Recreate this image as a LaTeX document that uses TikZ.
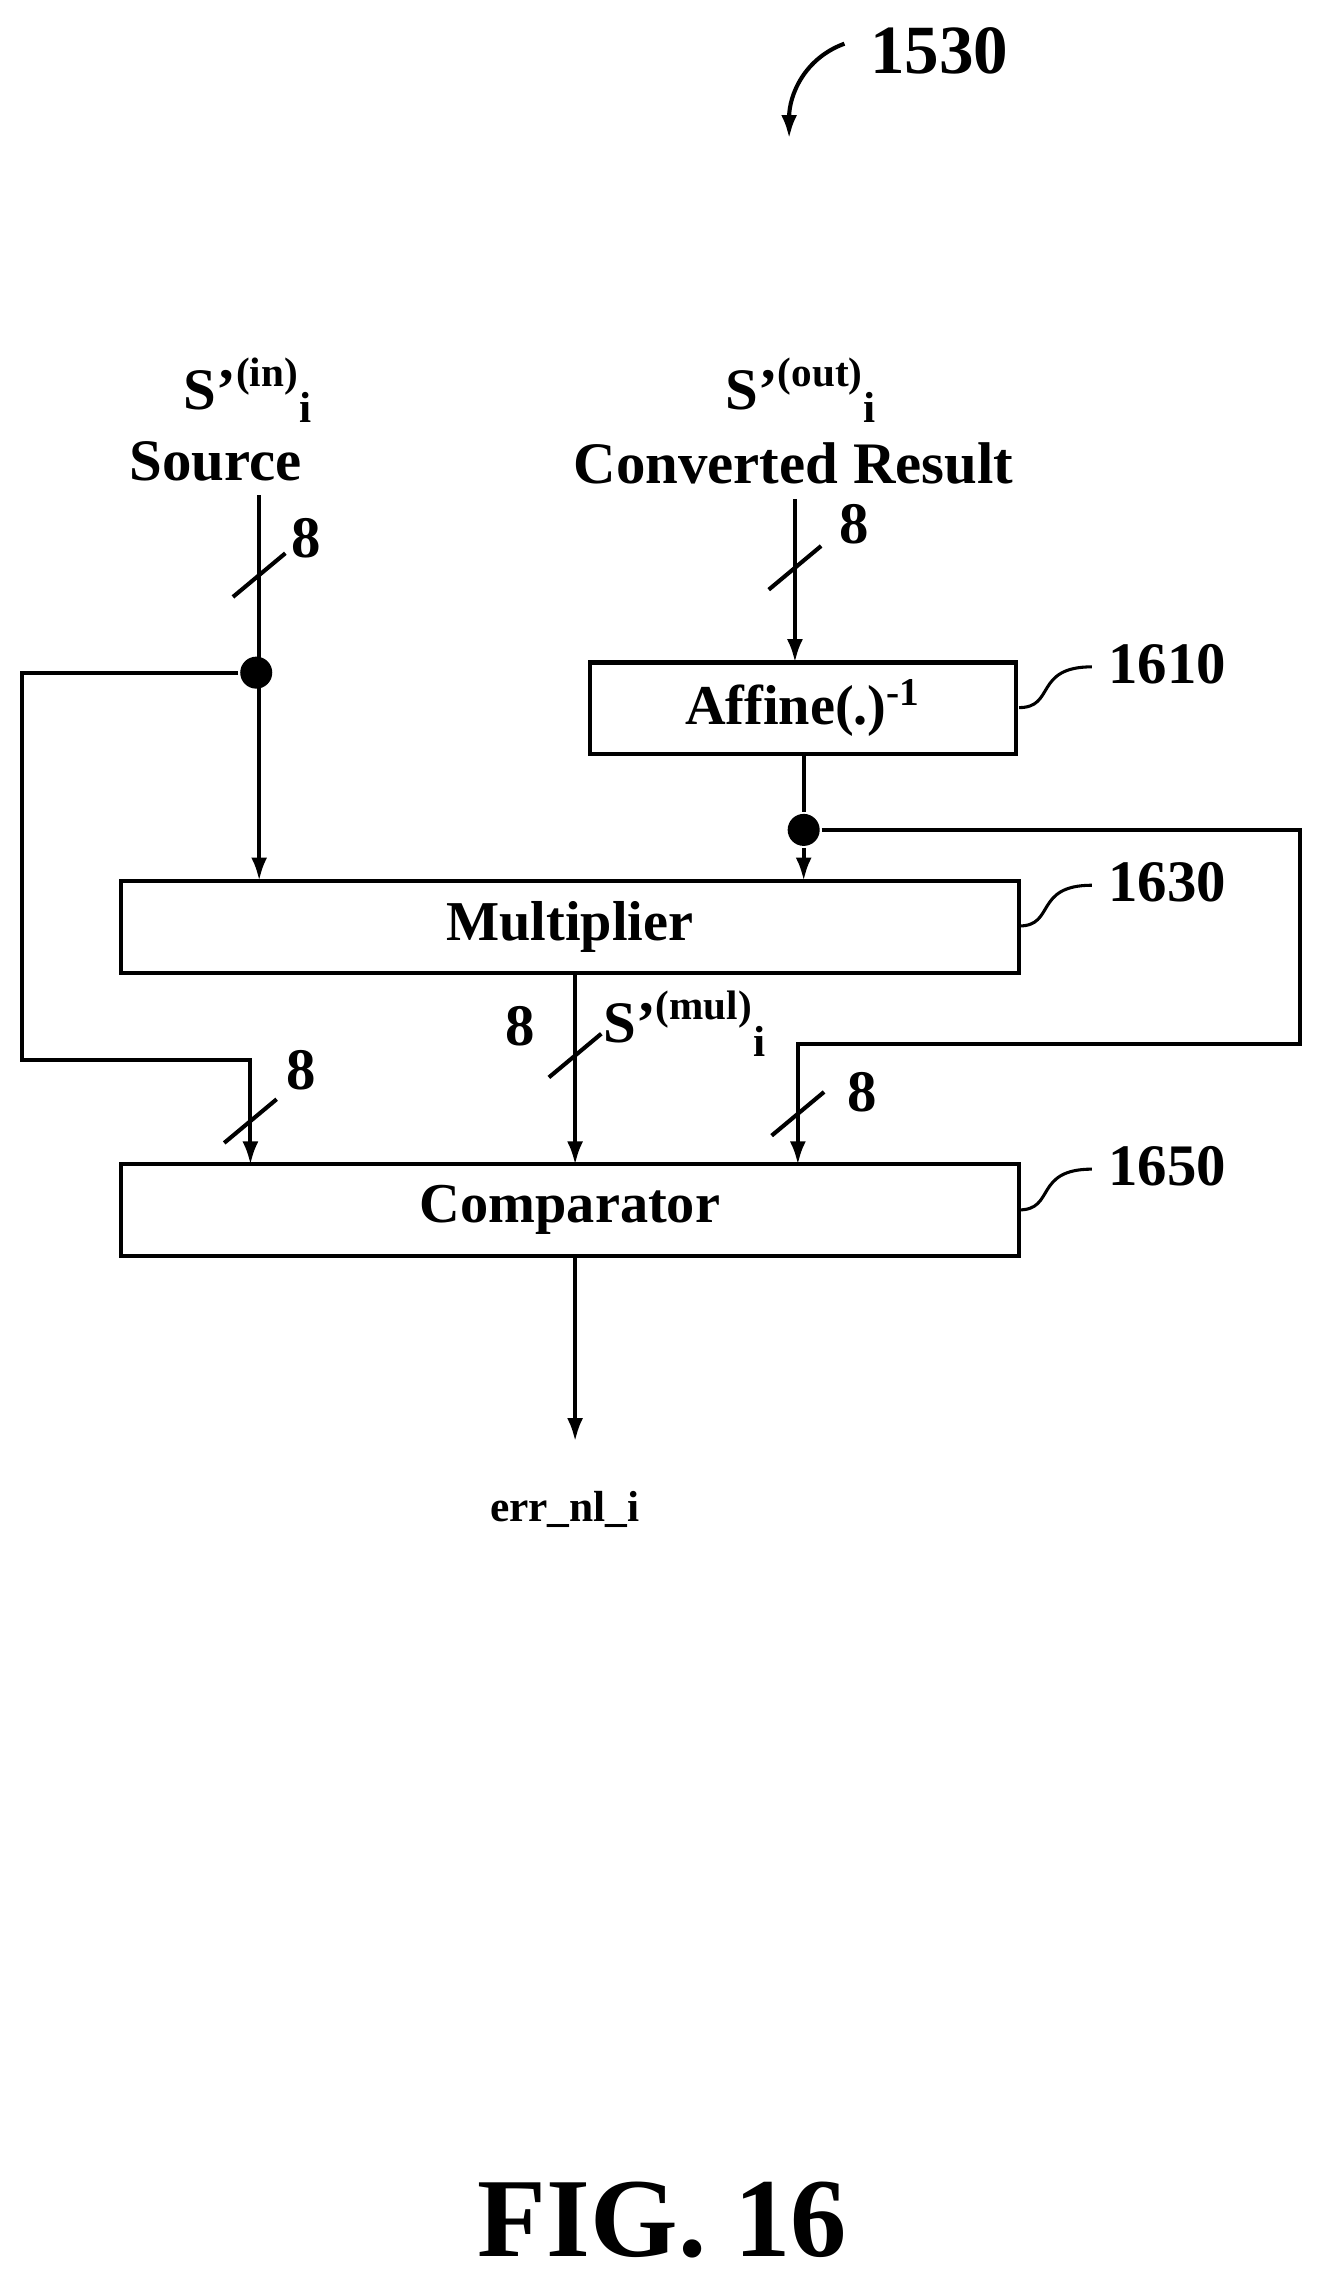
\documentclass[tikz,border=0pt]{standalone}
\usepackage{fontspec}
\setmainfont{Liberation Serif}
\usetikzlibrary{arrows.meta}
\newcommand{\subi}{\raisebox{-0.5ex}{\fontsize{17}{18}\selectfont i}}
\begin{document}
\begin{tikzpicture}[x=0.02cm,y=-0.02cm,line width=1.6pt,
  ar/.style={-{Latex[length=0.32cm,width=0.22cm]}},
  lbl/.style={font=\fontsize{23}{26}\selectfont\bfseries,inner sep=0},
  box/.style={draw,minimum height=1.26cm,inner sep=0,font=\fontsize{22}{26}\selectfont\bfseries},
  dot/.style={circle,fill,inner sep=0,minimum size=0.44cm}]
\useasboundingbox (0,0) rectangle (909,1566);
\node[lbl,font=\fontsize{27}{30}\selectfont\bfseries] (n1530) at (645,35) {1530};
\draw[ar] (580,30) to[out=200,in=90] (542,95);
\node[lbl] (sin) at (170,268) {S’\textsuperscript{(in)}\subi};
\node[lbl] (src) at (148,317) {Source};
\node[lbl] (sout) at (550,268) {S’\textsuperscript{(out)}\subi};
\node[lbl] (conv) at (545,318) {Converted Result};
\node[box,minimum width=5.86cm] (aff) at (551.5,486.5) {Affine(.)\textsuperscript{-1}};
\node[box,minimum width=12.34cm] (mul) at (391.5,636.5) {Multiplier};
\node[box,minimum width=12.34cm] (cmp) at (391.5,831) {Comparator};
\node[dot] (d1) at (176,462) {};
\node[dot] (d2) at (552,570) {};
\coordinate (s0) at (178,340);
\coordinate (c0) at (546,343);
\draw (s0) -- (178,462);
\draw[ar] (178,462) -- (178,605);
\draw[ar] (c0) -- (546,455);
\draw (552,518) -- (d2);
\draw[ar] (d2) -- (552,605);
\draw[ar] (d1) -- (15,462) -- (15,728) -- (172,728) -- (172,800);
\draw[ar] (d2) -- (893,570) -- (893,717) -- (548,717) -- (548,800);
\draw[ar] (395,668) -- (395,800);
\draw[ar] (395,862) -- (395,990);
\foreach \x/\y in {178/395,546/390,172/770,548/765,395/725}
  \draw (\x-18,\y+15) -- (\x+18,\y-15);
\node[lbl] at (210,370) {8};
\node[lbl] at (587,360) {8};
\node[lbl] at (207,735) {8};
\node[lbl] at (592,750) {8};
\node[lbl] at (357,705) {8};
\node[lbl] at (470,703) {S’\textsuperscript{(mul)}\subi};
\node[lbl,font=\fontsize{17}{20}\selectfont\bfseries] at (388,1037) {err\_nl\_i};
\foreach \yy/\t in {486/1610,636/1630,831/1650}{
  \draw[line width=1.2pt] (700,\yy) .. controls (725,\yy) and (710,\yy-28) .. (750,\yy-28);
  \node[lbl,anchor=west] at (760,\yy-30) {\t};}
\node[lbl,font=\fontsize{44}{50}\selectfont\bfseries] at (455,1525) {FIG. 16};
\end{tikzpicture}
\end{document}
